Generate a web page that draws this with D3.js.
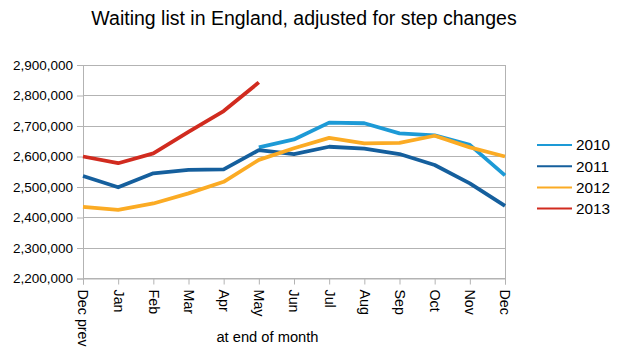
<!DOCTYPE html>
<html>
<head>
<meta charset="utf-8">
<script src="https://cdn.jsdelivr.net/npm/d3@7"></script>
<style>
  html, body { margin: 0; padding: 0; background: #fff; }
  svg { display: block; font-family: "Liberation Sans", Arial, sans-serif; }
</style>
</head>
<body>
<svg id="chart" width="617" height="356"></svg>
<script>
const months = ["Dec prev", "Jan", "Feb", "Mar", "Apr", "May", "Jun", "Jul", "Aug", "Sep", "Oct", "Nov", "Dec"];
const yTicks = [2200000, 2300000, 2400000, 2500000, 2600000, 2700000, 2800000, 2900000];
const seriesNames = ["2010", "2011", "2012", "2013"];
const v2010 = [null, null, null, null, null, 2630000, 2656000, 2711000, 2709000, 2676000, 2669000, 2638000, 2538000];
const v2011 = [2536000, 2499000, 2545000, 2556000, 2558000, 2621000, 2608000, 2632000, 2626000, 2608000, 2572000, 2512000, 2438000];
const v2012 = [2435000, 2425000, 2446000, 2479000, 2517000, 2589000, 2627000, 2661000, 2643000, 2645000, 2668000, 2630000, 2600000];
const v2013 = [2600000, 2578000, 2610000, 2681000, 2749000, 2843000, null, null, null, null, null, null, null];
const colors = ["#1d9ad6", "#155f9d", "#fbab24", "#d12b1f"];

const series = [v2010, v2011, v2012, v2013].map((vals, i) => ({ name: seriesNames[i], vals, color: colors[i] }));

const svg = d3.select("#chart");
const L = 83, R = 505, T = 65, B = 278.5;

const x = d3.scalePoint().domain(months).range([L, R]);
const y = d3.scaleLinear().domain([2200000, 2900000]).range([B, T]);

// title
svg.append("text").attr("x", 304).attr("y", 25).attr("text-anchor", "middle")
  .attr("font-size", 19.5).attr("fill", "#000")
  .text("Waiting list in England, adjusted for step changes");

// grid
svg.append("g").selectAll("line").data(yTicks).join("line")
  .attr("x1", L).attr("x2", R)
  .attr("y1", d => y(d)).attr("y2", d => y(d))
  .attr("stroke", "#b3b3b3").attr("stroke-width", 1).attr("shape-rendering", "crispEdges");

// right frame
svg.append("line").attr("x1", R).attr("x2", R).attr("y1", T).attr("y2", B)
  .attr("stroke", "#b3b3b3").attr("shape-rendering", "crispEdges");

// y axis
const yAxis = svg.append("g").attr("transform", `translate(${L},0)`)
  .call(d3.axisLeft(y).tickValues(yTicks).tickSize(6).tickPadding(4).tickFormat(d3.format(",")));
yAxis.select(".domain").attr("stroke", "#b3b3b3");
yAxis.selectAll(".tick line").attr("stroke", "#b3b3b3");
yAxis.selectAll("text").attr("font-size", 13.5).attr("fill", "#000").attr("font-family", "Liberation Sans, Arial, sans-serif");

// x axis
const xAxis = svg.append("g").attr("transform", `translate(0,${B})`)
  .call(d3.axisBottom(x).tickSize(6).tickPadding(0));
xAxis.select(".domain").attr("stroke", "#b3b3b3");
xAxis.selectAll(".tick line").attr("stroke", "#b3b3b3");
xAxis.selectAll("text")
  .attr("font-size", 14.3).attr("fill", "#000").attr("font-family", "Liberation Sans, Arial, sans-serif")
  .attr("text-anchor", "start")
  .attr("transform", "rotate(90)")
  .attr("x", 11).attr("y", 0).attr("dy", "0.35em");

// axis title
svg.append("text").attr("x", 267.5).attr("y", 342).attr("text-anchor", "middle")
  .attr("font-size", 14.7).attr("fill", "#000").text("at end of month");

// lines
const line = d3.line()
  .defined(d => d.v != null)
  .x(d => x(d.m)).y(d => y(d.v));

svg.append("g").selectAll("path").data(series).join("path")
  .attr("d", s => line(s.vals.map((v, i) => ({ m: months[i], v }))))
  .attr("fill", "none").attr("stroke", s => s.color)
  .attr("stroke-width", 3.8).attr("stroke-linejoin", "round").attr("stroke-linecap", "butt");

// legend
const lg = svg.append("g");
const items = lg.selectAll("g").data(series).join("g")
  .attr("transform", (d, i) => `translate(537,${145 + i * 21.2})`);
items.append("line").attr("x1", 0).attr("x2", 35).attr("y1", 0).attr("y2", 0)
  .attr("stroke", d => d.color).attr("stroke-width", 2);
items.append("text").attr("x", 39).attr("y", 0).attr("dy", "0.35em")
  .attr("font-size", 15.3).attr("fill", "#000").text(d => d.name);
</script>
</body>
</html>
